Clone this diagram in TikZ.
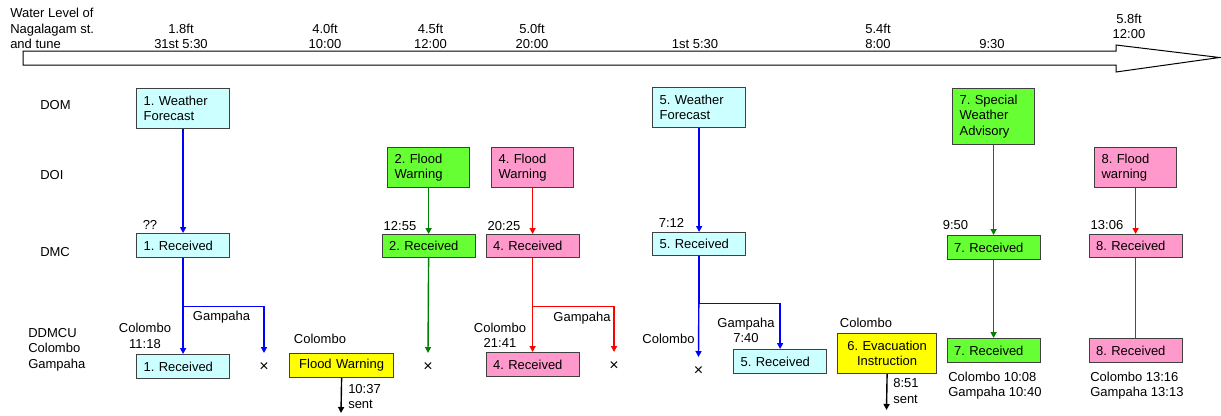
\documentclass[tikz,border=0pt]{standalone}
\usepackage{fontspec}
\setmainfont{Liberation Sans}
\usetikzlibrary{arrows.meta}
\definecolor{fcyan}{HTML}{CCFFFF}
\definecolor{fgreen}{HTML}{66FF33}
\definecolor{fpink}{HTML}{FF99CC}
\definecolor{fyellow}{HTML}{FFFF00}
\definecolor{lgreen}{HTML}{008000}
\frenchspacing
\begin{document}
\begin{tikzpicture}[x=0.75pt,y=-0.75pt,
  every node/.style={font=\fontsize{9.75}{11.55}\selectfont},
  lbl/.style={inner sep=0pt, align=center},
  lbll/.style={inner sep=0pt, align=left},
  box/.style={draw=black!75, line width=0.9pt, inner xsep=5.25pt, inner ysep=0pt,
    align=left, anchor=north west, text width=59.25pt, minimum height=18pt},
  tall/.style={minimum height=30pt},
  narrow/.style={text width=51pt},
  link/.style={line width=1.05pt, -{Triangle[length=4.5pt,width=4.5pt]}},
  plain/.style={line width=1.05pt},
  xmark/.style={inner sep=0pt, font=\fontsize{12}{12}\selectfont},
]
\useasboundingbox (0,0) rectangle (1221,415);

% time axis
\draw[line width=0.75pt, fill=white] (23,51) -- (1116,51) -- (1116,45) -- (1219.5,57.5)
  -- (1116,72) -- (1116,65) -- (23,65) -- cycle;

% axis captions
\node[lbll, anchor=west] (wl) at (10,28.5) {Water Level of\\Nagalagam st.\\and tune};
\node[lbl] (t1) at (181,36.5) {1.8ft\\31st 5:30};
\node[lbl] (t2) at (325,36.5) {4.0ft\\10:00};
\node[lbl] (t3) at (430.5,36.5) {4.5ft\\12:00};
\node[lbl] (t4) at (532,36.5) {5.0ft\\20:00};
\node[lbl] (t5) at (695,44) {1st 5:30};
\node[lbl] (t6) at (878,36.5) {5.4ft\\8:00};
\node[lbl] (t7) at (992,44) {9:30};
\node[lbl] (t8) at (1129,26.5) {5.8ft\\12:00};

% row captions
\node[lbll, anchor=west] (rdom) at (40,105) {DOM};
\node[lbll, anchor=west] (rdoi) at (40,175) {DOI};
\node[lbll, anchor=west] (rdmc) at (40,252) {DMC};
\node[lbll, anchor=west] (rdd) at (28,349.5) {DDMCU\\Colombo\\Gampaha};

% boxes
\node[box,tall,fill=fcyan] (wf1) at (136,88) {1. Weather\\Forecast};
\node[box,fill=fcyan] (rc1) at (136,233) {1. Received};
\node[box,fill=fcyan] (dd1) at (136,354) {1. Received};

\node[box,tall,narrow,fill=fgreen] (fw2) at (387,147) {2. Flood\\Warning};
\node[box,fill=fgreen,minimum height=17.25pt] (rc2) at (381.5,234) {2. Received};

\node[box,fill=fyellow,align=center,text width=67.5pt] (fwc) at (289,353) {Flood Warning};

\node[box,tall,narrow,fill=fpink] (fw4) at (491,147) {4. Flood\\Warning};
\node[box,fill=fpink,minimum height=17.25pt] (rc4) at (485.5,234) {4. Received};
\node[box,fill=fpink] (dd4) at (485.5,352) {4. Received};

\node[box,tall,fill=fcyan] (wf5) at (652,87) {5. Weather\\Forecast};
\node[box,fill=fcyan,minimum height=17.25pt] (rc5) at (652,232) {5. Received};
\node[box,fill=fcyan] (dd5) at (733,349) {5. Received};

\node[box,tall,fill=fyellow,align=center,text width=63.75pt] (ev6) at (837,333) {6. Evacuation\\Instruction};

\node[box,narrow,fill=fgreen,minimum height=42pt] (sw7) at (952,88) {7. Special\\Weather\\Advisory};
\node[box,fill=fgreen] (rc7) at (946.5,235) {7. Received};
\node[box,fill=fgreen] (dd7) at (946.5,338) {7. Received};

\node[box,tall,narrow,fill=fpink] (fw8) at (1094,147) {8. Flood\\warning};
\node[box,fill=fpink,minimum height=17.25pt] (rc8) at (1088.5,234) {8. Received};
\node[box,fill=fpink] (dd8) at (1088.5,338) {8. Received};

% receive times at DMC
\node[lbl] (tm1) at (150,225) {??};
\node[lbl] (tm2) at (400,226) {12:55};
\node[lbl] (tm4) at (504,226) {20:25};
\node[lbl] (tm5) at (671.5,223) {7:12};
\node[lbl] (tm7) at (955.5,225) {9:50};
\node[lbl] (tm8) at (1107,225) {13:06};

% district labels
\node[lbl] (c1) at (145,336) {Colombo\\11:18};
\node[lbl] (g1) at (221.5,317) {Gampaha};
\node[lbl] (cfw) at (320,339) {Colombo};
\node[lbll, anchor=west] (s1) at (348,396.5) {10:37\\sent};
\node[lbl] (c4) at (500,335) {Colombo\\21:41};
\node[lbl] (g4) at (582,318) {Gampaha};
\node[lbl] (c5) at (668.5,339) {Colombo};
\node[lbl] (g5) at (746,330.5) {Gampaha\\7:40};
\node[lbl] (c6) at (866,323) {Colombo};
\node[lbll, anchor=west] (s6) at (893,391) {8:51\\sent};
\node[lbll, anchor=west] (r7) at (948,385.5) {Colombo 10:08\\Gampaha 10:40};
\node[lbll, anchor=west] (r8) at (1090,385.5) {Colombo 13:16\\Gampaha 13:13};

% not received
\node[xmark] (x1) at (264,367) {×};
\node[xmark] (x2) at (428,367) {×};
\node[xmark] (x4) at (614,366) {×};
\node[xmark] (x5) at (698.5,371) {×};
\coordinate (x1in) at (264,353);
\coordinate (x2in) at (428,353);
\coordinate (x4in) at (614,352);
\coordinate (x5in) at (698.5,357);
\coordinate (fwcout) at (341,413);
\coordinate (ev6out) at (886.5,410);

% message flow
\draw[link,blue] (wf1.south) -- (rc1.north);
\draw[link,blue] (rc1.south) -- (dd1.north);
\draw[link,blue] (rc1.south) -- ++(0,48) -| (x1in);

\draw[link,lgreen] (fw2.south) -- (rc2.north);
\draw[link,lgreen] (rc2.south) -- (x2in);

\draw[link,black] (fwc.south) -- (fwcout);

\draw[link,red] (fw4.south) -- (rc4.north);
\draw[link,red] (rc4.south) -- (dd4.north);
\draw[link,red] (rc4.south) -- ++(0,48) -| (x4in);

\draw[link,blue] (wf5.south) -- (rc5.north);
\draw[link,blue] (rc5.south) -- (x5in);
\draw[link,blue] (rc5.south) -- ++(0,47) -| (dd5.north);

\draw[link,black] (ev6.south) -- (ev6out);

\draw[link,lgreen] (sw7.south) -- (rc7.north);
\draw[link,lgreen] (rc7.south) -- (dd7.north);

\draw[link,red] (fw8.south) -- (rc8.north);
\draw[plain,red] (rc8.south) -- (dd8.north);
\end{tikzpicture}
\end{document}
